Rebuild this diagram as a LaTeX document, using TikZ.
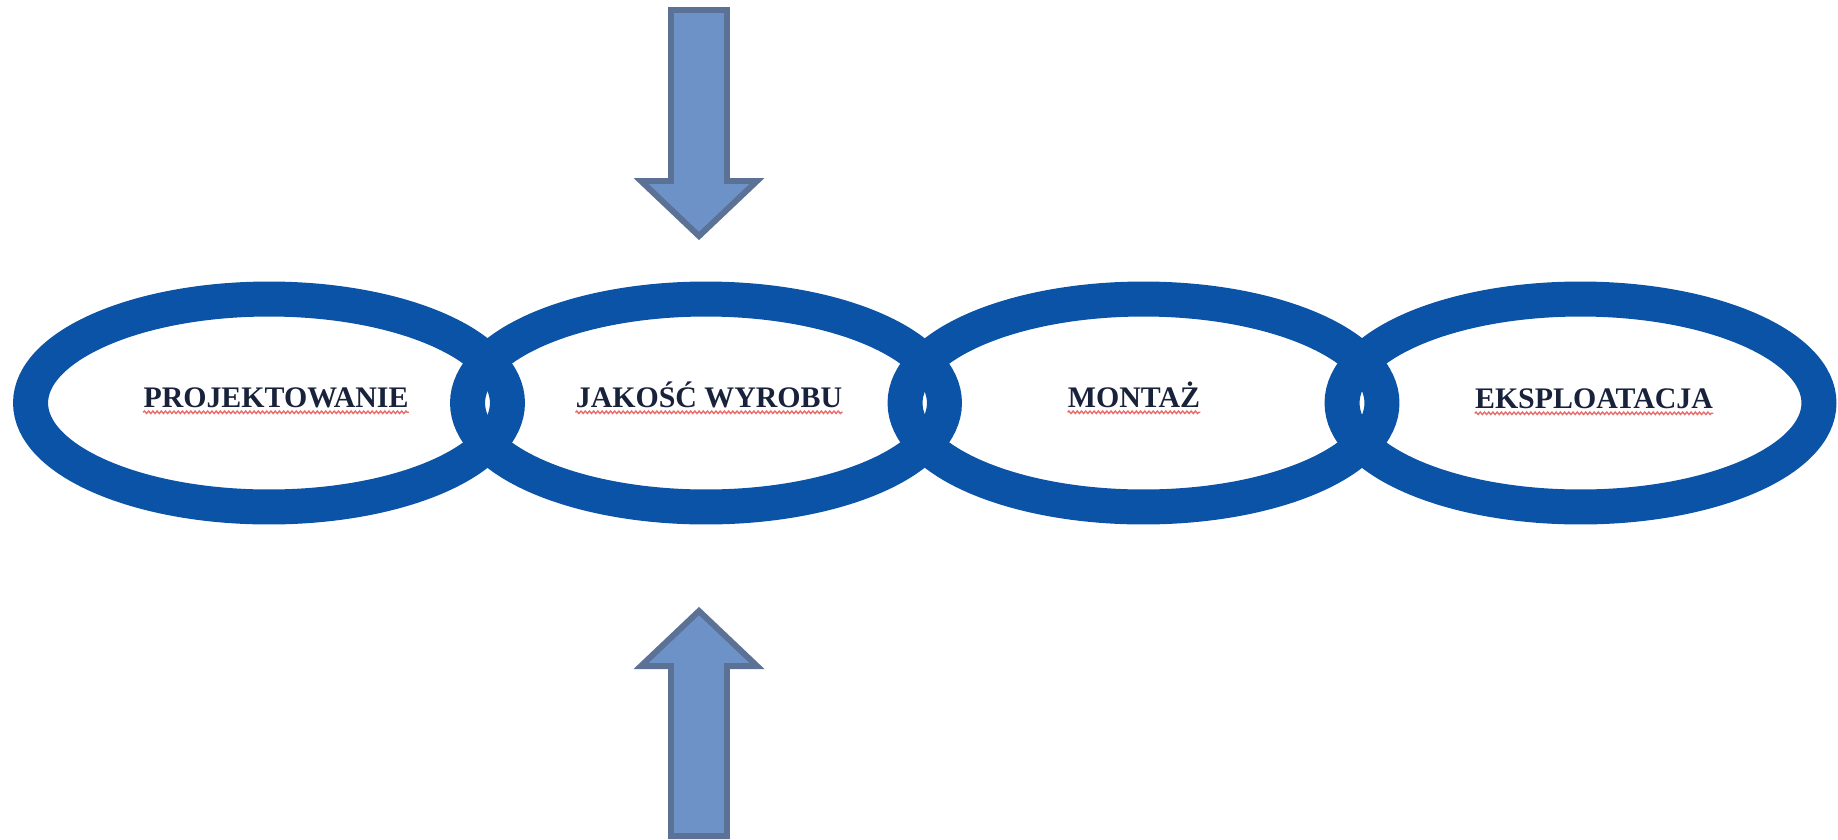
\documentclass[tikz,border=0pt]{standalone}
\usepackage{fontspec}
\setmainfont{Liberation Serif}
\usetikzlibrary{shapes.geometric,decorations.pathmorphing}

\definecolor{ringblue}{RGB}{11,83,166}
\definecolor{arrowfill}{RGB}{109,146,200}
\definecolor{arrowline}{RGB}{91,113,150}
\definecolor{textnavy}{RGB}{24,34,58}
\definecolor{spellred}{RGB}{232,110,110}

\tikzset{
    ring/.style={ellipse, draw=ringblue, line width=0.7cm, inner sep=0pt,
        minimum width=9.54cm, minimum height=4.16cm},
    stage/.style={anchor=base, inner sep=0pt, text=textnavy,
        font=\fontsize{17pt}{20pt}\selectfont\bfseries},
    wavy/.style={draw=spellred, line width=0.8pt,
        decorate, decoration={snake, amplitude=0.7pt, segment length=2.4pt}},
    bigarrow/.style={fill=arrowfill, draw=arrowline, line width=3.4pt, line join=miter}
}

\begin{document}
\begin{tikzpicture}[x=0.02cm, y=-0.02cm]
    \useasboundingbox (0,0) rectangle (1838,839);
    % the chain
    \node[ring] (r1) at (269,403) {};
    \node[ring] (r2) at (706,403) {};
    \node[ring] (r3) at (1143.5,403) {};
    \node[ring] (r4) at (1580.5,403) {};
    % arrows from above and below
    \draw[bigarrow] (671,10) -- (727,10) -- (727,181) -- (757,181) -- (699,236)
        -- (641,181) -- (671,181) -- cycle;
    \draw[bigarrow] (671,836) -- (727,836) -- (727,666) -- (757,666) -- (699,611)
        -- (641,666) -- (671,666) -- cycle;
    % labels
    \node[stage] (t1) at (276,407) {PROJEKTOWANIE};
    \node[stage] (t2) at (709,407) {JAKOŚĆ WYROBU};
    \node[stage] (t3) at (1134,407) {MONTAŻ};
    \node[stage] (t4) at (1594,408) {EKSPLOATACJA};
    \draw[wavy] ([yshift=-3pt]t1.base west) -- ([yshift=-3pt]t1.base east);
    \draw[wavy] ([yshift=-3pt]t2.base west) -- ([yshift=-3pt]t2.base east);
    \draw[wavy] ([yshift=-3pt]t3.base west) -- ([yshift=-3pt]t3.base east);
    \draw[wavy] ([yshift=-3pt]t4.base west) -- ([yshift=-3pt]t4.base east);
\end{tikzpicture}
\end{document}
